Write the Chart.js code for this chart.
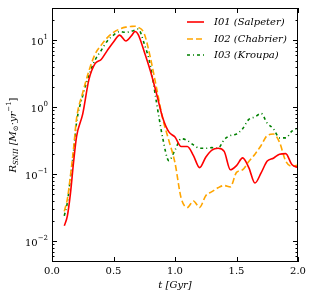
<!DOCTYPE html>
<html>
<head>
<meta charset="utf-8">
<script src="https://cdn.jsdelivr.net/npm/chart.js@4"></script>
<style>
  body { margin: 0; background: #fff; }
  #wrap { width: 313px; height: 298px; }
</style>
</head>
<body>
<div id="wrap"><canvas id="grafico" width="313" height="298"></canvas></div>
<script>
// tempi in Gyr
var tempi = [0.1,0.125,0.15,0.175,0.2,0.25,0.3,0.35,0.4,0.45,0.5,0.55,0.6,0.65,0.675,0.7,0.75,0.8,0.85,0.9,0.95,1.0,1.05,1.1,1.15,1.2,1.25,1.3,1.35,1.4,1.45,1.5,1.55,1.6,1.65,1.7,1.75,1.8,1.85,1.9,1.95,2.0];

var salpeter = [0.017,0.024,0.052,0.15,0.37,0.8,2.6,4.5,5.2,7.1,9.5,12,9.8,12,13.6,12.3,6.8,3.5,1.6,0.7,0.43,0.36,0.26,0.26,0.19,0.126,0.18,0.23,0.245,0.22,0.117,0.135,0.176,0.126,0.074,0.105,0.158,0.174,0.2,0.204,0.14,0.126];
var chabrier = [0.028,0.043,0.095,0.24,0.69,1.66,3.5,6.2,8.5,11,13.2,14.8,15.8,16.2,16.3,15.8,12.6,5.5,1.95,0.68,0.32,0.148,0.044,0.032,0.04,0.032,0.048,0.055,0.063,0.068,0.065,0.107,0.117,0.155,0.2,0.27,0.38,0.4,0.3,0.158,0.132,0.138];
var kroupa = [0.024,0.038,0.089,0.22,0.6,1.5,3.0,5.1,7.1,9.8,12,13.5,13.2,13.8,14.3,14.8,8.9,4.2,1.17,0.35,0.16,0.23,0.34,0.32,0.275,0.245,0.245,0.25,0.245,0.33,0.38,0.4,0.48,0.66,0.72,0.81,0.58,0.48,0.35,0.35,0.44,0.49];

var xTicks = [0.0,0.5,1.0,1.5,2.0];
var yEsponenti = [-2,-1,0,1];
var etichette = ['I01 (Salpeter)','I02 (Chabrier)','I03 (Kroupa)'];
var colori = ['#ff0000','#ffa500','#008000'];
var tratti = [[],[6,3],[3,3,1,3]];

function punti(valori) {
    var out = [];
    for (var i = 0; i < tempi.length; i++) {
        out.push({x: tempi[i], y: valori[i]});
    }
    return out;
}

var serif = '"DejaVu Serif", "Liberation Serif", serif';

var assiPlugin = {
    id: 'assi',
    afterDraw: function(chart) {
        var ctx = chart.ctx;
        var a = chart.chartArea;
        var sx = chart.scales.x;
        var sy = chart.scales.y;
        ctx.save();
        ctx.strokeStyle = '#000';
        ctx.lineWidth = 1;
        ctx.strokeRect(a.left + 0.5, a.top + 0.5, a.right - a.left - 1, a.bottom - a.top - 1);

        // tick x (dentro, su e giu)
        ctx.beginPath();
        xTicks.forEach(function(t) {
            var px = Math.round(sx.getPixelForValue(t)) + 0.5;
            ctx.moveTo(px, a.bottom); ctx.lineTo(px, a.bottom - 5);
            ctx.moveTo(px, a.top); ctx.lineTo(px, a.top + 5);
        });
        // tick y logaritmici
        for (var e = -3; e <= 1; e++) {
            for (var m = 1; m <= 9; m++) {
                var v = m * Math.pow(10, e);
                if (v < sy.min || v > sy.max) continue;
                var py = Math.round(sy.getPixelForValue(v)) + 0.5;
                var l = m === 1 ? 5 : 2.5;
                ctx.moveTo(a.left, py); ctx.lineTo(a.left + l, py);
                ctx.moveTo(a.right, py); ctx.lineTo(a.right - l, py);
            }
        }
        ctx.stroke();

        ctx.fillStyle = '#000';
        ctx.font = '10px ' + serif;
        ctx.textAlign = 'center';
        ctx.textBaseline = 'top';
        xTicks.forEach(function(t) {
            ctx.fillText(t.toFixed(1), sx.getPixelForValue(t), a.bottom + 4);
        });

        yEsponenti.forEach(function(e) {
            var py = sy.getPixelForValue(Math.pow(10, e));
            var esp = e < 0 ? '\u2212' + (-e) : String(e);
            ctx.font = '7px ' + serif;
            var we = ctx.measureText(esp).width;
            ctx.font = '10px ' + serif;
            var wb = ctx.measureText('10').width;
            var xr = a.left - 4;
            ctx.textAlign = 'left';
            ctx.textBaseline = 'middle';
            ctx.fillText('10', xr - we - wb, py + 2);
            ctx.font = '7px ' + serif;
            ctx.fillText(esp, xr - we, py - 3);
        });

        // titolo asse x
        ctx.textBaseline = 'middle';
        ctx.textAlign = 'center';
        ctx.font = 'italic 10px ' + serif;
        ctx.fillText('t [Gyr]', (a.left + a.right) / 2, 285);

        // titolo asse y
        ctx.save();
        ctx.translate(13, (a.top + a.bottom) / 2);
        ctx.rotate(-Math.PI / 2);
        var parti = [
            {t: 'R', f: 'italic 10px ', dy: 0},
            {t: 'SNII', f: 'italic 7px ', dy: 3},
            {t: ' [M', f: 'italic 10px ', dy: 0},
            {t: '\u2299', f: '7px ', dy: 3},
            {t: '\u00b7yr', f: 'italic 10px ', dy: 0},
            {t: '\u22121', f: '7px ', dy: -4},
            {t: ']', f: '10px ', dy: 0}
        ];
        var tot = 0;
        parti.forEach(function(p) { ctx.font = p.f + serif; tot += ctx.measureText(p.t).width; });
        var xx = -tot / 2;
        ctx.textAlign = 'left';
        parti.forEach(function(p) {
            ctx.font = p.f + serif;
            ctx.fillText(p.t, xx, p.dy);
            xx += ctx.measureText(p.t).width;
        });
        ctx.restore();

        // legenda
        var ly = [22, 39, 55];
        for (var i = 0; i < etichette.length; i++) {
            ctx.beginPath();
            ctx.strokeStyle = colori[i];
            ctx.lineWidth = 1.6;
            ctx.setLineDash(tratti[i]);
            ctx.moveTo(187, ly[i]); ctx.lineTo(204, ly[i]);
            ctx.stroke();
            ctx.setLineDash([]);
            ctx.fillStyle = '#000';
            ctx.font = 'italic 10px ' + serif;
            ctx.textAlign = 'left';
            ctx.fillText(etichette[i], 214, ly[i]);
        }
        ctx.restore();
    }
};

var dataset = [salpeter, chabrier, kroupa].map(function(serie, i) {
    return {
        label: etichette[i],
        data: punti(serie),
        borderColor: colori[i],
        borderWidth: 1.6,
        borderDash: tratti[i],
        pointRadius: 0,
        fill: false,
        cubicInterpolationMode: 'monotone'
    };
});

var grafico = new Chart(document.getElementById('grafico'), {
    type: 'line',
    data: { datasets: dataset },
    options: {
        responsive: false,
        animation: false,
        layout: { padding: { left: 52, top: 8, right: 15, bottom: 36 } },
        plugins: { legend: { display: false }, tooltip: { enabled: false } },
        scales: {
            x: { type: 'linear', min: 0, max: 2, display: false },
            y: { type: 'logarithmic', min: 0.0049, max: 30.5, display: false }
        }
    },
    plugins: [assiPlugin]
});
</script>
</body>
</html>
